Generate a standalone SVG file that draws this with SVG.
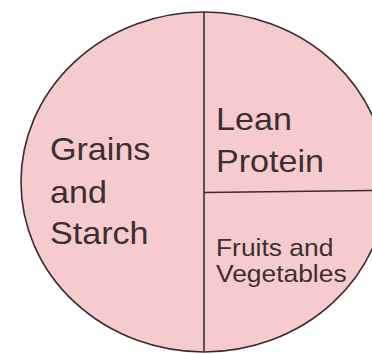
<svg xmlns="http://www.w3.org/2000/svg" width="372" height="354" viewBox="0 0 372 354">
<style>
.lbl{font-family:"Liberation Sans",Arial,sans-serif;fill:#3b2f31}
.big{font-size:31px}
.small{font-size:24px}
.ln{stroke:#3a2c2c;stroke-width:1.6;fill:none}
</style>
<rect width="372" height="354" fill="#ffffff"/>
<g id="plate">
<ellipse cx="204" cy="182" rx="183" ry="170" fill="#f6cbce" stroke="#3a2c2c" stroke-width="1.6"/>
</g>
<g id="connectors">
<line class="ln" x1="204" y1="12" x2="204" y2="352"/>
<line class="ln" x1="204" y1="192.5" x2="372" y2="190.5"/>
</g>
<g id="grains">
<text class="lbl big" transform="translate(50,160) scale(1.1,1)">Grains</text>
<text class="lbl big" transform="translate(50,203) scale(1.1,1)">and</text>
<text class="lbl big" transform="translate(50,244) scale(1.1,1)">Starch</text>
</g>
<g id="protein">
<text class="lbl big" transform="translate(216,130) scale(1.1,1)">Lean</text>
<text class="lbl big" transform="translate(216,172) scale(1.1,1)">Protein</text>
</g>
<g id="fruits">
<text class="lbl small" transform="translate(216,256) scale(1.1,1)">Fruits and</text>
<text class="lbl small" transform="translate(216,282) scale(1.1,1)">Vegetables</text>
</g>
</svg>
